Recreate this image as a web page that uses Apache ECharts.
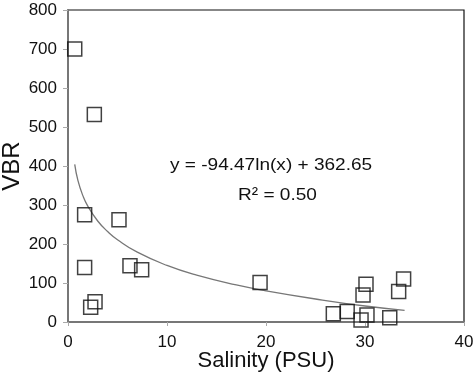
<!DOCTYPE html>
<html>
<head>
<meta charset="utf-8">
<script src="https://cdn.jsdelivr.net/npm/echarts@6/dist/echarts.min.js"></script>
<style>
  html, body { margin: 0; padding: 0; background: #fff; }
  #chart { width: 475px; height: 376px; }
</style>
</head>
<body>
<div id="chart"></div>
<script>
// observed points (salinity, VBR)
const salinity = [0.68, 2.66, 1.68, 5.15, 1.68, 6.26, 7.44, 2.73, 2.29, 19.4, 30.1, 29.8, 33.9, 33.4, 26.8, 28.2, 30.2, 29.6, 32.5]
const vbr = [700, 532, 275, 262, 140, 144, 134, 52, 38, 101, 97, 69, 110, 78, 21, 27, 18, 5, 11]

// log trend line
const trendX = [0.68, 1, 1.5, 2, 3, 4, 5, 7, 10, 13, 17, 20, 25, 30, 34]
const trendY = [404, 363, 324, 297, 259, 232, 211, 179, 145, 120, 95, 80, 59, 41, 30]

const xTicks = [0, 10, 20, 30, 40]
const yTicks = [0, 100, 200, 300, 400, 500, 600, 700, 800]

const fontFam = '"Liberation Sans", Arial, sans-serif'
const chart = echarts.init(document.getElementById('chart'), null, { renderer: 'canvas' })

const points = salinity.map((s, i) => [s, vbr[i]])
const trend = trendX.map((x, i) => [x, trendY[i]])

chart.setOption({
  animation: false,
  backgroundColor: '#fff',
  grid: {
    left: 68, right: 11, top: 10, bottom: 54,
    outerBoundsMode: 'none',
    containLabel: false,
    show: true, borderColor: '#111', borderWidth: 1.2, backgroundColor: 'transparent'
  },
  xAxis: {
    type: 'value',
    min: xTicks[0], max: xTicks[xTicks.length - 1], interval: 10,
    name: 'Salinity (PSU)',
    nameLocation: 'middle',
    nameGap: 28,
    nameMoveOverlap: false,
    nameTextStyle: { fontSize: 22, color: '#111', fontFamily: fontFam },
    axisLine: { lineStyle: { color: '#777', width: 2 } },
    axisTick: { show: true, length: 4, lineStyle: { color: '#aaa' } },
    axisLabel: { fontSize: 17, color: '#111', fontFamily: fontFam, margin: 12 },
    splitLine: { show: false }
  },
  yAxis: {
    type: 'value',
    min: yTicks[0], max: yTicks[yTicks.length - 1], interval: 100,
    name: 'VBR',
    nameLocation: 'middle',
    nameGap: 44,
    nameMoveOverlap: false,
    nameTextStyle: { fontSize: 24, color: '#111', fontFamily: fontFam },
    axisLine: { lineStyle: { color: '#777', width: 2 } },
    axisTick: { show: true, length: 5, lineStyle: { color: '#aaa' } },
    axisLabel: { fontSize: 17, color: '#111', fontFamily: fontFam, margin: 11 },
    splitLine: { show: false }
  },
  graphic: [
    {
      type: 'text', left: 170, top: 157, scaleX: 1.12,
      style: { text: 'y = -94.47ln(x) + 362.65', fill: '#111', font: '17px ' + fontFam }
    },
    {
      type: 'text', left: 238, top: 187, scaleX: 1.12,
      style: { text: 'R² = 0.50', fill: '#111', font: '17px ' + fontFam }
    }
  ],
  series: [
    {
      type: 'line',
      data: trend,
      smooth: true,
      showSymbol: false,
      lineStyle: { color: '#777', width: 1.3 },
      z: 1
    },
    {
      type: 'scatter',
      data: points,
      symbol: 'rect',
      symbolSize: 14,
      itemStyle: { color: 'rgba(0,0,0,0)', borderColor: '#111', borderWidth: 1.5 },
      z: 2
    }
  ]
})
</script>
</body>
</html>
